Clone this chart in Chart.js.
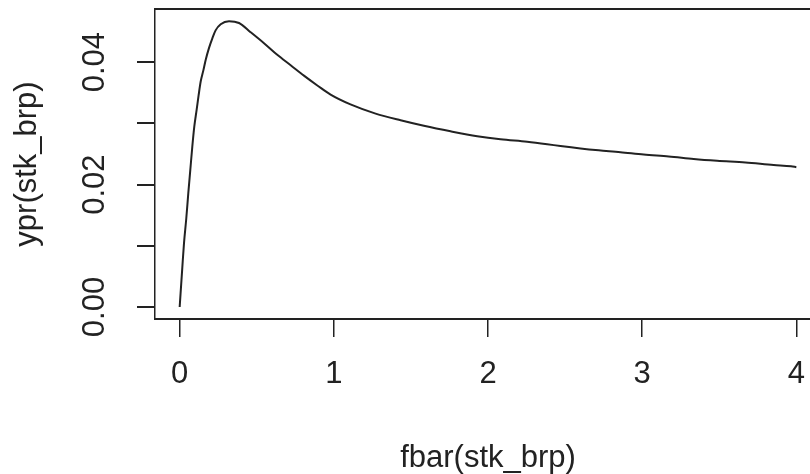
<!DOCTYPE html>
<html>
<head>
<meta charset="utf-8">
<script src="https://cdn.jsdelivr.net/npm/chart.js@4"></script>
<style>
  body { margin: 0; overflow: hidden; background: #fff; }
  #wrap { width: 830px; height: 474px; }
</style>
</head>
<body>
<div id="wrap"><canvas id="ypr"></canvas></div>
<script>
// values
const fbarVals = [0, 0.017, 0.028, 0.043, 0.056, 0.069, 0.082, 0.095, 0.11, 0.123, 0.136, 0.154, 0.169, 0.19, 0.212, 0.233, 0.266, 0.32, 0.385, 0.46, 0.547, 0.633, 0.72, 0.806, 0.893, 0.979, 1.108, 1.271, 1.433, 1.584, 1.757, 1.93, 2.081, 2.254, 2.384, 2.47, 2.6, 2.718, 2.859, 3.01, 3.172, 3.334, 3.486, 3.67, 3.853, 3.966, 4];
const yprVals  = [0, 0.0064, 0.0104, 0.0145, 0.0186, 0.0224, 0.0262, 0.0295, 0.0322, 0.0346, 0.0368, 0.0387, 0.0404, 0.0423, 0.0439, 0.0452, 0.0462, 0.0467, 0.0464, 0.0449, 0.0431, 0.0412, 0.0395, 0.0378, 0.0362, 0.0347, 0.0331, 0.0316, 0.0305, 0.0296, 0.0287, 0.0279, 0.0274, 0.0270, 0.0266, 0.0263, 0.0259, 0.0256, 0.0253, 0.0249, 0.0246, 0.0242, 0.0239, 0.0236, 0.0232, 0.0230, 0.02285];

const xTickVals = [0, 1, 2, 3, 4];
const yTickVals = [0, 0.01, 0.02, 0.03, 0.04];
const yTickLabels = ['0.00', '', '0.02', '', '0.04'];

const ink = '#222';
const font = { family: '"Liberation Sans", Arial, sans-serif', size: 31, lineHeight: 1 };

// R draws y tick labels parallel to the axis, and the full box
const rStyle = {
  id: 'rStyle',
  afterDraw(chart) {
    const c = chart.ctx, a = chart.chartArea, y = chart.scales.y;
    c.save();
    c.strokeStyle = ink;
    c.lineWidth = 2;
    c.beginPath();
    c.moveTo(a.left, a.top);
    c.lineTo(a.right, a.top);
    c.lineTo(a.right, a.bottom);
    c.stroke();
    c.fillStyle = ink;
    c.font = font.size + 'px ' + font.family;
    c.textAlign = 'center';
    c.textBaseline = 'middle';
    yTickVals.forEach((v, i) => {
      c.save();
      c.translate(95, y.getPixelForValue(v));
      c.rotate(-Math.PI / 2);
      c.fillText(yTickLabels[i], 0, 0);
      c.restore();
    });
    c.restore();
  }
};

new Chart(document.getElementById('ypr'), {
  type: 'line',
  data: {
    datasets: [{
      data: fbarVals.map((x, i) => ({ x: x, y: yprVals[i] })),
      borderColor: ink,
      borderWidth: 2,
      pointRadius: 0,
      cubicInterpolationMode: 'monotone',
      fill: false
    }]
  },
  options: {
    responsive: true,
    maintainAspectRatio: false,
    animation: false,
    layout: { padding: { top: 9, right: 9, left: 0, bottom: 0 } },
    plugins: { legend: { display: false }, tooltip: { enabled: false } },
    scales: {
      x: {
        type: 'linear',
        min: -0.16,
        max: 4.16,
        afterBuildTicks: s => { s.ticks = xTickVals.map(v => ({ value: v })); },
        afterFit: s => { s.height = 155; },
        grid: { drawOnChartArea: false, tickLength: 18, color: ink, lineWidth: 1.5 },
        border: { color: ink, width: 2 },
        ticks: { color: ink, font: font, padding: 22, maxRotation: 0, callback: v => String(v) },
        title: { display: true, text: 'fbar(stk_brp)', color: ink, font: font, padding: { top: 0, bottom: 0 } }
      },
      y: {
        type: 'linear',
        min: -0.00196,
        max: 0.04869,
        afterBuildTicks: s => { s.ticks = yTickVals.map(v => ({ value: v })); },
        afterFit: s => { s.width = 155; },
        grid: { drawOnChartArea: false, tickLength: 18, color: ink, lineWidth: 2 },
        border: { color: ink, width: 1.5 },
        ticks: { display: false },
        title: { display: true, text: 'ypr(stk_brp)', color: ink, font: font, padding: { top: 12, bottom: 0 } }
      }
    }
  },
  plugins: [rStyle]
});
</script>
</body>
</html>
